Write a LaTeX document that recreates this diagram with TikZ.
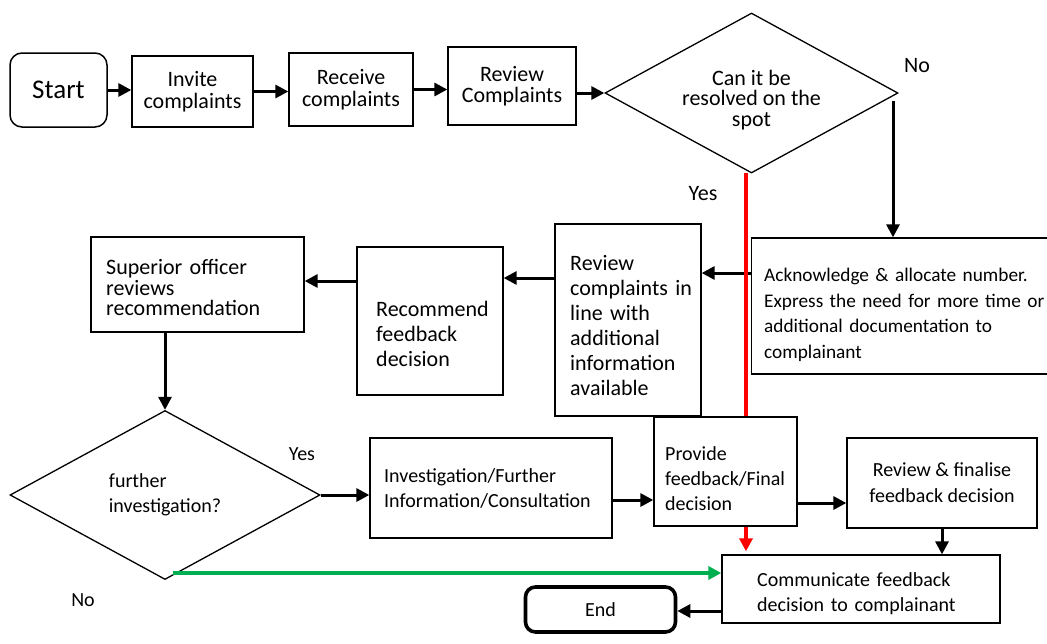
\documentclass[tikz,border=0pt]{standalone}
\usepackage{fontspec}
\setmainfont{Carlito}
\usetikzlibrary{shapes.geometric,arrows.meta}

\definecolor{nogreen}{HTML}{00B050}

\newcommand*{\fs}[2]{\fontsize{#1}{#2}\selectfont}

\begin{document}
\begin{tikzpicture}
[
	x=1pt,y=-1pt,
	box/.style={draw,line width=1.3pt,fill=white,inner sep=0pt,align=center,font=\fs{22}{21.5}},
	boxtext/.style={inner sep=0pt,align=left},
	terminal/.style={draw,fill=white,rounded corners=12pt,inner sep=0pt},
	decision/.style={diamond,draw,line width=1.3pt,fill=white,inner sep=0pt,aspect=1.8},
	arr/.style={-{Triangle[length=13pt,width=13pt]},line width=3pt},
	yesline/.style={arr,red,line width=4pt},
	noline/.style={arr,nogreen,line width=4pt},
	answer/.style={font=\fs{22}{22}}
]
	\useasboundingbox (0,0) rectangle (1047,643);

	% top row
	\node[terminal,line width=1.5pt,minimum width=97pt,minimum height=74pt,font=\fs{27}{27}] (start) at (58.5,90) {Start};
	\node[box,minimum width=121pt,minimum height=71pt] (invite) at (192.5,91.5) {Invite\\complaints};
	\node[box,minimum width=124pt,minimum height=73pt] (receive) at (351,89.5) {Receive\\complaints};
	\node[box,minimum width=128pt,minimum height=78pt] (review) at (512,86) {Review\\Complaints};
	\node[decision,minimum width=293pt,minimum height=160pt] (spot) at (751.5,93) {};
	\node[boxtext,align=center,font=\fs{22}{20.5}] (spottext) at (751.5,100) {Can it be\\resolved on the\\spot};

	\node[answer] (noa) at (917,66) {No};
	\node[answer] (yesa) at (703,194) {Yes};

	% middle row
	\node[box,anchor=west,minimum width=320pt,minimum height=136pt] (ack) at (751,306) {};
	\node[boxtext,anchor=west,text width=300pt,font=\fs{19.3}{25.5}] (acktext) at (764,315) {Acknowledge \& allocate number.\\Express the need for more time or\\additional documentation to\\complainant};
	\node[box,minimum width=146pt,minimum height=192pt] (reviewinfo) at (628,320) {};
	\node[boxtext,anchor=west,text width=130pt,font=\fs{22}{25}] (reviewinfotext) at (570,326) {Review\\complaints in\\line with\\additional\\information\\available};
	\node[box,minimum width=146pt,minimum height=148pt] (recommend) at (430,321) {};
	\node[boxtext,anchor=west,text width=120pt,font=\fs{22}{25}] (recommendtext) at (376,334) {Recommend\\feedback\\decision};
	\node[box,minimum width=213pt,minimum height=95pt] (superior) at (197.5,284.5) {};
	\node[boxtext,anchor=west,text width=190pt,font=\fs{22}{20.5}] (superiortext) at (106,287.5) {Superior officer\\reviews\\recommendation};

	% bottom rows
	\node[decision,minimum width=310pt,minimum height=169pt,align=left,font=\fs{20}{25}] (further) at (165,495) {further\\investigation?};
	\node[answer,font=\fs{20}{20}] (yesb) at (302,454) {Yes};
	\node[answer,font=\fs{20}{20}] (nob) at (83,600) {No};

	\node[box,minimum width=242pt,minimum height=100pt] (invest) at (491,488) {};
	\node[boxtext,anchor=west,text width=230pt,font=\fs{20}{25}] (investtext) at (384,488) {Investigation/Further\\Information/Consultation};
	\node[box,minimum width=190pt,minimum height=90pt,font=\fs{20}{26}] (finalise) at (942,483) {Review \& finalise\\feedback decision};
	\node[box,minimum width=278pt,minimum height=68pt] (comm) at (861,589) {};
	\node[boxtext,anchor=west,text width=230pt,font=\fs{20}{25}] (commtext) at (757,594) {Communicate feedback\\decision to complainant};
	\node[terminal,line width=3.6pt,rounded corners=10pt,minimum width=150pt,minimum height=45pt,font=\fs{20}{20}] (finish) at (600.5,609.5) {End};

	% connectors
	\draw[arr] (start.east) -- (start.east -| invite.west);
	\draw[arr] (invite.east) -- (invite.east -| receive.west);
	\draw[arr] (receive.east) -- (receive.east -| review.west);
	\draw[arr] (review.east |- spot.west) -- (spot.west);

	\coordinate (nofrom) at (893,101);
	\draw[arr] (nofrom) -- (nofrom |- ack.north);

	\draw[arr] (ack.west |- 0,273) -- (reviewinfo.east |- 0,273);
	\draw[arr] (reviewinfo.west |- 0,278) -- (recommend.east |- 0,278);
	\draw[arr] (recommend.west |- 0,281) -- (superior.east |- 0,281);
	\draw[arr] (further.north |- superior.south) -- (further.north);
	\draw[arr] (further.east) -- (further.east -| invest.west);

	\coordinate (yesfrom) at (746,173);
	\draw[yesline,shorten >=3pt] (yesfrom) -- (yesfrom |- comm.north);

	\node[box,minimum width=143pt,minimum height=109pt] (provide) at (725.5,471.5) {};
	\node[boxtext,anchor=west,text width=130pt,font=\fs{20}{25}] (providetext) at (665,478.5) {Provide\\feedback/Final\\decision};

	\draw[arr] (invest.east |- 0,500) -- (provide.west |- 0,500);
	\draw[arr] (provide.east |- 0,503) -- (finalise.west |- 0,503);
	\draw[arr] (finalise.south) -- (finalise.south |- comm.north);

	\coordinate (nofromb) at (173,573);
	\draw[noline] (nofromb) -- (nofromb -| comm.west);
	\draw[arr] (comm.west |- 0,611) -- (finish.east |- 0,611);

\end{tikzpicture}
\end{document}
